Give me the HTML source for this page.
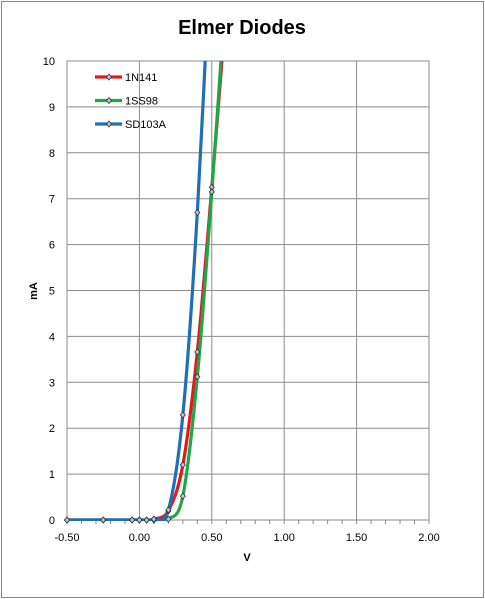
<!DOCTYPE html>
<html><head><meta charset="utf-8"><style>
body{margin:0;background:#fff;}
svg{display:block;font-family:"Liberation Sans",sans-serif;}
</style></head><body>
<svg id="chart" width="485" height="599">
<rect x="1.5" y="1.5" width="482" height="596" fill="#fff" stroke="#888"/>
<text x="242" y="34" text-anchor="middle" font-size="20" font-weight="bold">Elmer Diodes</text>
<g id="grid"></g>
<g id="series" clip-path="url(#clip)"></g>
<g id="markers"></g>
<g id="legend"></g>
<defs><clipPath id="clip"><rect x="67" y="61" width="362" height="460"/></clipPath></defs>
<text x="247" y="561" text-anchor="middle" font-size="11" font-weight="bold">V</text>
<text transform="translate(37,291) rotate(-90)" text-anchor="middle" font-size="11" font-weight="bold">mA</text>
</svg>
<script>
const xTicks=[-0.5,0,0.5,1,1.5,2];
const xTickLabels=["-0.50","0.00","0.50","1.00","1.50","2.00"];
const yTicks=[0,1,2,3,4,5,6,7,8,9,10];
const seriesNames=["1N141","1SS98","SD103A"];
const seriesColors=["#e31a1c","#1fa64a","#1f6fb8"];
const v1N141=[-0.5,-0.25,-0.05,0,0.05,0.1,0.2,0.3,0.4,0.5,0.6];
const i1N141=[0,0,0,0,0,0.02,0.2,1.2,3.66,7.25,11.2];
const v1SS98=[-0.5,-0.25,-0.05,0,0.05,0.1,0.2,0.3,0.4,0.5,0.6];
const i1SS98=[0,0,0,0,0,0,0.02,0.52,3.12,7.15,11.7];
const vSD103A=[-0.5,-0.25,-0.05,0,0.05,0.1,0.2,0.3,0.4,0.5];
const iSD103A=[0,0,0,0,0,0.02,0.22,2.29,6.7,13];
const X=v=>67+(v+0.5)*144.8, Y=i=>520-i*45.9;
const NS="http://www.w3.org/2000/svg";
function mk(t,a,p){const e=document.createElementNS(NS,t);for(const k in a)e.setAttribute(k,a[k]);p.appendChild(e);return e;}
const grid=document.getElementById('grid');
yTicks.forEach(t=>{
 const l=mk('line',{x1:67,x2:429,y1:Y(t),y2:Y(t),stroke:'#8c8c8c','stroke-width':1},grid);
 
 
 const tx=mk('text',{x:55,y:Y(t)+4,'text-anchor':'end','font-size':11},grid);tx.textContent=t;
 
 
});
xTicks.forEach((t,k)=>{
 const l=mk('line',{x1:X(t),x2:X(t),y1:61,y2:520,stroke:'#8c8c8c','stroke-width':1},grid);
 
 
 const tx=mk('text',{x:X(t),y:541,'text-anchor':'middle','font-size':11},grid);tx.textContent=xTickLabels[k];
 
 
});
for(let v=-0.5;v<=2.001;v+=0.1){mk('line',{x1:X(v),x2:X(v),y1:520,y2:524,stroke:'#8c8c8c'},grid);}
mk('rect',{x:67,y:61,width:362,height:459,fill:'none',stroke:'#8c8c8c'},grid);
function path(vs,is){
 const p=vs.map((v,k)=>[X(v),Y(is[k])]);
 let d='M'+p[0][0]+','+p[0][1];
 for(let k=0;k<p.length-1;k++){
  const p0=p[k-1]||p[k],p1=p[k],p2=p[k+1],p3=p[k+2]||p2;
  const c1=[p1[0]+(p2[0]-p0[0])/6,p1[1]+(p2[1]-p0[1])/6],c2=[p2[0]-(p3[0]-p1[0])/6,p2[1]-(p3[1]-p1[1])/6];
  d+=` C${c1[0]},${c1[1]} ${c2[0]},${c2[1]} ${p2[0]},${p2[1]}`;
 }
 return d;
}
const data=[[v1N141,i1N141],[v1SS98,i1SS98],[vSD103A,iSD103A]];
const sg=document.getElementById('series'),mg=document.getElementById('markers');
data.forEach(([vs,is],s)=>{
 const pth=mk('path',{d:path(vs,is),fill:'none',stroke:seriesColors[s],'stroke-width':3.2},sg);
 
 
 vs.forEach((v,k)=>{if(is[k]>10)return;
  const x=X(v),y=Y(is[k]);
  const m=mk('path',{d:`M${x},${y-3} L${x+2.5},${y} L${x},${y+3} L${x-2.5},${y}Z`,fill:'#b8c4d6',stroke:'#333','stroke-width':0.8},mg);
  
  
 });
});
const lg=document.getElementById('legend');
seriesNames.forEach((n,s)=>{
 const y=77+s*23.5;
 const g=mk('g',{},lg);
 
 
 mk('line',{x1:95,x2:122,y1:y,y2:y,stroke:seriesColors[s],'stroke-width':3.2},g);
 mk('path',{d:`M109,${y-3} L111.5,${y} L109,${y+3} L106.5,${y}Z`,fill:'#b8c4d6',stroke:'#333','stroke-width':0.8},g);
 const t=mk('text',{x:125,y:y+4,'font-size':11},g);t.textContent=n;
});
</script>
</body></html>
